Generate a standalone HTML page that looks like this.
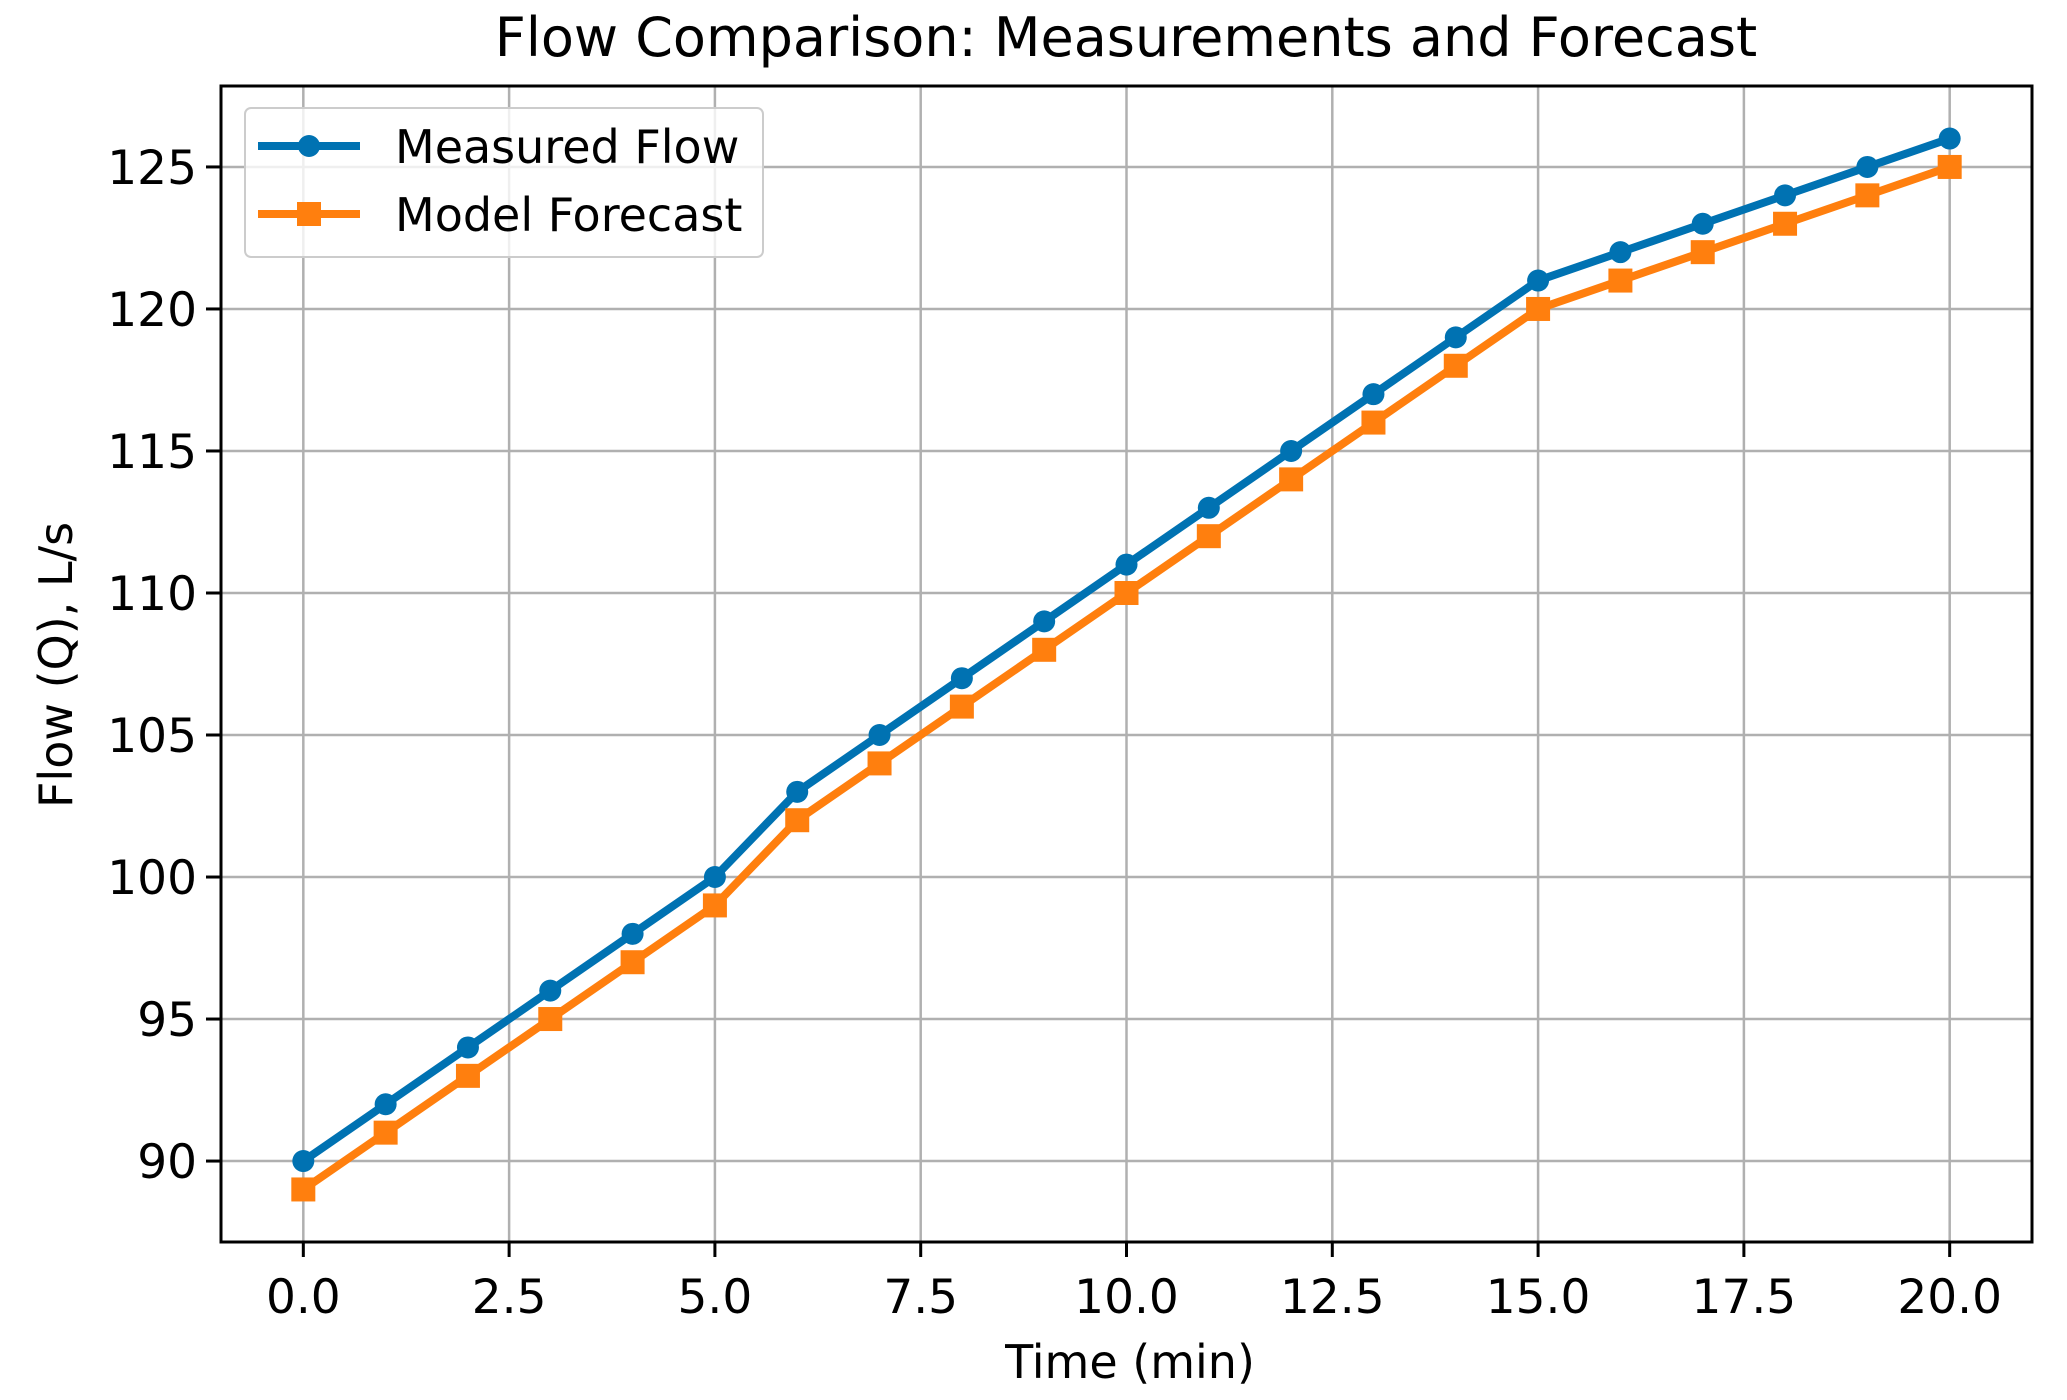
<!DOCTYPE html>
<html><head><meta charset="utf-8"><style>html,body{margin:0;padding:0;background:#fff}svg{display:block}text{font-family:"DejaVu Sans","Liberation Sans",sans-serif;fill:#000}</style></head>
<body>
<svg id="chart" width="2067" height="1400" viewBox="0 0 2067 1400" xmlns="http://www.w3.org/2000/svg">
<g id="grid"></g>
<g id="series"></g>
<rect x="221" y="86" width="1811" height="1156" fill="none" stroke="#000" stroke-width="3"/>
<g id="ticks"></g>
<text x="1126" y="56" font-size="54" text-anchor="middle">Flow Comparison: Measurements and Forecast</text>
<text x="1130" y="1378" font-size="46" text-anchor="middle">Time (min)</text>
<text x="0" y="0" font-size="46" text-anchor="middle" transform="translate(72,665) rotate(-90)">Flow (Q), L/s</text>
<g>
<rect x="245" y="108" width="518" height="149" rx="6" fill="#fff" fill-opacity="0.8" stroke="#ccc" stroke-width="2"/>
<g>
<line x1="258" y1="146" x2="360" y2="146" stroke="#0072b2" stroke-width="8"/>
<circle cx="309" cy="146" r="11" fill="#0072b2"/>
<text x="395" y="163" font-size="46">Measured Flow</text></g>
<g>
<line x1="258" y1="214" x2="360" y2="214" stroke="#ff7f0e" stroke-width="8"/>
<rect x="297" y="202" width="24" height="24" fill="#ff7f0e"/>
<text x="395" y="231" font-size="46">Model Forecast</text></g>
</g>
</svg>
<script>
const times=[0,1,2,3,4,5,6,7,8,9,10,11,12,13,14,15,16,17,18,19,20];
const measured=[90,92,94,96,98,100,103,105,107,109,111,113,115,117,119,121,122,123,124,125,126];
const forecast=[89,91,93,95,97,99,102,104,106,108,110,112,114,116,118,120,121,122,123,124,125];
const xTicks=[0,2.5,5,7.5,10,12.5,15,17.5,20];
const xTickLabels=["0.0","2.5","5.0","7.5","10.0","12.5","15.0","17.5","20.0"];
const yTicks=[90,95,100,105,110,115,120,125];
const yTickLabels=["90","95","100","105","110","115","120","125"];
const NS="http://www.w3.org/2000/svg";
const L=221,R=2032,T=86,B=1242;
const xmin=-1,xmax=21,ymin=87.15,ymax=127.85;
function X(v){return L+(v-xmin)/(xmax-xmin)*(R-L);}
function Y(v){return B-(v-ymin)/(ymax-ymin)*(B-T);}
function mk(tag,attrs,parent){const e=document.createElementNS(NS,tag);for(const k in attrs)e.setAttribute(k,attrs[k]);parent.appendChild(e);return e;}
const grid=document.getElementById('grid'),ticks=document.getElementById('ticks'),series=document.getElementById('series');
xTicks.forEach((v,i)=>{
 const g=mk('line',{x1:X(v),x2:X(v),y1:T,y2:B,stroke:'#b0b0b0','stroke-width':2.5},grid);
 
 
 const t=mk('line',{x1:X(v),x2:X(v),y1:B,y2:B+15,stroke:'#000','stroke-width':3},ticks);
 
 
 const lb=mk('text',{x:X(v),y:1313,'font-size':47,'text-anchor':'middle'},ticks);
 lb.textContent=xTickLabels[i];
 
 
});
yTicks.forEach((v,i)=>{
 const g=mk('line',{x1:L,x2:R,y1:Y(v),y2:Y(v),stroke:'#b0b0b0','stroke-width':2.5},grid);
 
 
 const t=mk('line',{x1:L-15,x2:L,y1:Y(v),y2:Y(v),stroke:'#000','stroke-width':3},ticks);
 
 
 const lb=mk('text',{x:L-24,y:Y(v)+17,'font-size':47,'text-anchor':'end'},ticks);
 lb.textContent=yTickLabels[i];
 
 
});
function drawSeries(vals,color,shape,name){
 const pts=times.map((t,i)=>X(t)+','+Y(vals[i])).join(' ');
 const pl=mk('polyline',{points:pts,fill:'none',stroke:color,'stroke-width':8,'stroke-linejoin':'round'},series);
 
 
 times.forEach((t,i)=>{
  let m;
  if(shape==='circle')m=mk('circle',{cx:X(t),cy:Y(vals[i]),r:11,fill:color},series);
  else m=mk('rect',{x:X(t)-12,y:Y(vals[i])-12,width:24,height:24,fill:color},series);
  
  
 });
}
drawSeries(measured,'#0072b2','circle','measured');
drawSeries(forecast,'#ff7f0e','square','forecast');
</script>
</body></html>
